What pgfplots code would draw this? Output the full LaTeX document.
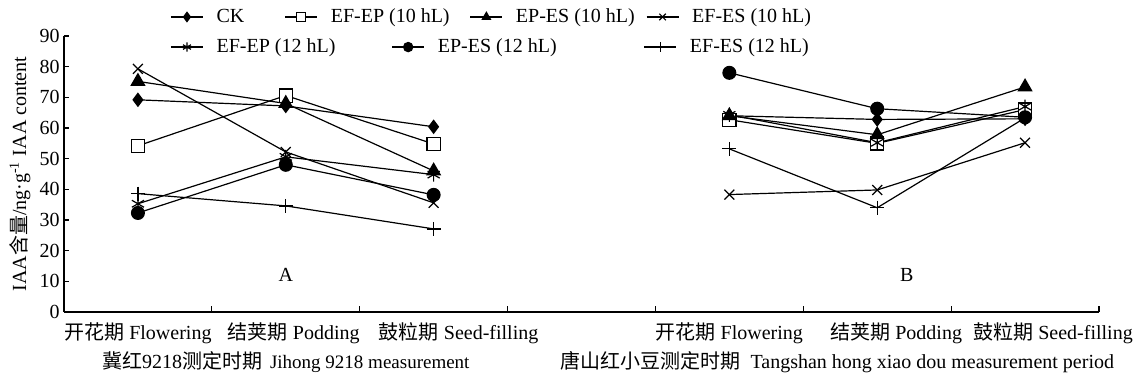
\documentclass[border=0pt]{standalone}
\usepackage{pgfplots}
\pgfplotsset{compat=1.18}
\usepackage{fontspec}
\setmainfont{Liberation Serif}
\newfontfamily\cjk{Noto Sans CJK SC}
\newcommand{\fs}{\fontsize{10}{12}\selectfont}
\begin{document}
\begin{tikzpicture}
\path[use as bounding box] (-32pt,-34.5pt) rectangle (535.5pt,156pt);
\pgfplotsset{
  common/.style={
    scale only axis, width=517.5pt, height=138pt,
    xmin=-0.5, xmax=6.5, ymin=0, ymax=90,
  },
  legimg/.style={
    legend image code/.code={\draw[mark repeat=2,mark phase=2,##1,mark size=2.3pt] plot coordinates {(0pt,0pt) (8pt,0pt) (16pt,0pt)};}
  },
  legsty/.style={
    legend style={draw=none, fill=none, inner sep=0pt, font=\fs,
      nodes={inner xsep=0pt, inner ysep=1pt},
      /tikz/column sep=0pt,
      /tikz/every odd column/.append style={column sep=6.5pt}},
  },
}
\begin{axis}[common, legimg, legsty,
  axis lines*=left,
  axis line style={line width=0.7pt},
  tick align=inside,
  xtick={0,1,2,4,5,6},
  xticklabels={{\cjk 开花期} Flowering,\hspace{8pt}{\cjk 结荚期} Podding,\hspace{25pt}{\cjk 鼓粒期} Seed-filling,{\cjk 开花期} Flowering,\hspace{19pt}{\cjk 结荚期} Podding,\hspace{28pt}{\cjk 鼓粒期} Seed-filling},
  minor xtick={0.5,1.5,2.5,3.5,4.5,5.5,6.5},
  major x tick style={draw=none},
  minor tick length=3pt,
  major tick length=2.5pt,
  ytick={0,10,...,90},
  tick style={line width=0.6pt, black},
  tick label style={font=\fs},
  /pgf/number format/assume math mode=true,
  yticklabel style={inner xsep=2pt},
  xticklabel style={yshift=-2pt},
  ylabel={IAA{\cjk 含量}/ng·g\textsuperscript{-1} IAA content},
  ylabel style={font=\fs, yshift=-1pt},
  unbounded coords=jump,
  every axis plot/.append style={black, line width=0.6pt, mark options={solid}},
  legend columns=4,
  legend style={at={(rel axis cs:0.1024,1.069)}, anchor=west},
  clip=false,
]
\addplot[mark=diamond*, mark size=3.2pt] coordinates {(0,69.2) (1,67.2) (2,60.4) (3,nan) (4,64) (5,62.8) (6,63)};
\addplot[mark=square*, mark size=3.3pt, mark options={fill=white}] coordinates {(0,54.2) (1,70.6) (2,54.8) (3,nan) (4,62.7) (5,55) (6,66)};
\addplot[mark=triangle*, mark size=3.8pt] coordinates {(0,75.2) (1,68) (2,46) (3,nan) (4,64) (5,57.8) (6,73.4)};
\addplot[mark=x, mark size=3.5pt] coordinates {(0,79.3) (1,52.2) (2,35.6) (3,nan) (4,38.3) (5,39.8) (6,55.2)};
\addplot[mark=asterisk, mark size=3.5pt] coordinates {(0,35.3) (1,50.6) (2,44.8) (3,nan) (4,64.3) (5,55.2) (6,67)};
\addplot[mark=*, mark size=3.2pt] coordinates {(0,32.3) (1,48) (2,38.2) (3,nan) (4,78) (5,66.3) (6,63.5)};
\addplot[mark=+, mark size=3.5pt] coordinates {(0,38.6) (1,34.6) (2,27.1) (3,nan) (4,53.2) (5,34) (6,63.3)};
\legend{\makebox[34pt][l]{CK},\makebox[69.5pt][l]{EF-EP (10 hL)},\makebox[65pt][l]{EP-ES (10 hL)},EF-ES (10 hL)}
\node[font=\fs] at (axis cs:1,12.1) {A};
\node[font=\fs] at (axis cs:5.2,12.1) {B};
\node[font=\fs] at (axis cs:1,0) [yshift=-25pt] {{\cjk 冀红}9218{\cjk 测定时期}\hspace{4pt}{\fontsize{9.5}{12}\selectfont Jihong 9218 measurement}};
\node[font=\fs] at (axis cs:4.73,0) [yshift=-25pt] {{\cjk 唐山红小豆测定时期}\hspace{5pt}Tangshan hong xiao dou measurement period};
\end{axis}
\begin{axis}[common, hide axis, legimg, legsty,
  legend columns=3,
  legend style={at={(rel axis cs:0.1024,0.960)}, anchor=west},
]
\addlegendimage{black, line width=0.6pt, mark=asterisk}
\addlegendimage{black, line width=0.6pt, mark=*}
\addlegendimage{black, line width=0.6pt, mark=+}
\legend{\makebox[87.5pt][l]{EF-EP (12 hL)},\makebox[103pt][l]{EP-ES (12 hL)},EF-ES (12 hL)}
\end{axis}
\end{tikzpicture}
\end{document}
